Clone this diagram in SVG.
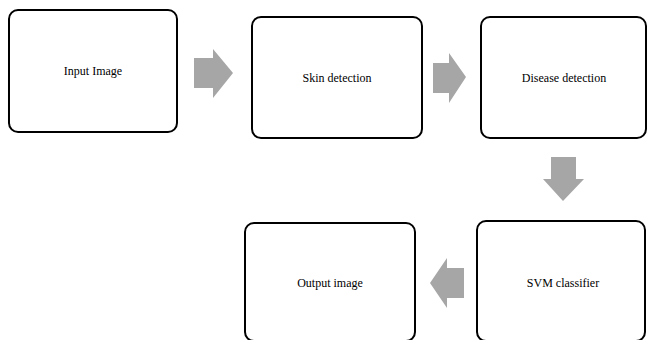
<svg xmlns="http://www.w3.org/2000/svg" width="647" height="340" viewBox="0 0 647 340">
<style>
.box{fill:#fff;stroke:#000;stroke-width:2}
.lbl{font-family:"Liberation Serif","Times New Roman",serif;font-size:12px;fill:#000;text-anchor:middle}
.arr{fill:#a6a6a6;stroke:none}
</style>
<rect width="647" height="340" fill="#fff"/>
<g id="connectors">
<polygon class="arr" points="194,58 213,58 213,49 233,73 213,98 213,88 194,88"/>
<polygon class="arr" points="433,63 449,63 449,53 466,77 449,103 449,93 433,93"/>
<polygon class="arr" points="551,157 576,157 576,179 584,179 563,201 543,179 551,179"/>
<polygon class="arr" points="464,268 447,268 447,258 430,283 447,308 447,298 464,298"/>
</g>
<g id="input-image">
<rect class="box" x="9" y="10" width="168" height="122" rx="9"/>
<text class="lbl" x="93" y="75">Input Image</text>
</g>
<g id="skin-detection">
<rect class="box" x="252" y="17" width="170" height="121" rx="9"/>
<text class="lbl" x="337" y="82">Skin detection</text>
</g>
<g id="disease-detection">
<rect class="box" x="481" y="17" width="165" height="121" rx="9"/>
<text class="lbl" x="564" y="82">Disease detection</text>
</g>
<g id="svm-classifier">
<rect class="box" x="477" y="221" width="168" height="120" rx="9"/>
<text class="lbl" x="563" y="287">SVM classifier</text>
</g>
<g id="output-image">
<rect class="box" x="245" y="223" width="170" height="118" rx="9"/>
<text class="lbl" x="330" y="287">Output image</text>
</g>
</svg>
